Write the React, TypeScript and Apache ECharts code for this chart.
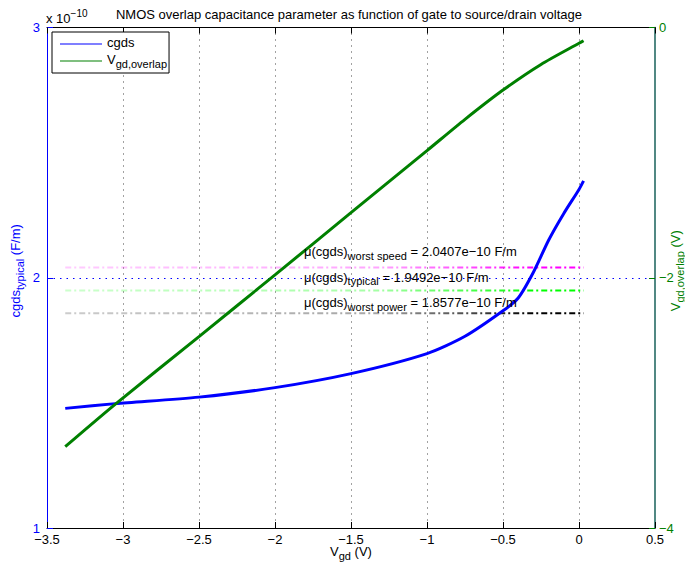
import { useEffect, useRef } from 'react';
import * as echarts from 'echarts';

// Gate-to-drain voltage samples (V) and the typical overlap capacitance (x 1e-10 F/m)
const vgdCgds = [-3.38, -3.05, -2.5, -2.0, -1.5, -1.0, -0.75, -0.5, -0.4, -0.3, -0.2, -0.1, 0.0, 0.03];
const cgdsTypical = [1.478, 1.497, 1.523, 1.561, 1.617, 1.697, 1.766, 1.868, 1.919, 2.022, 2.15, 2.257, 2.353, 2.387];

// Overlap voltage on the right axis (V)
const vgdOverlap = [-3.38, -3.05, -2.5, -2.0, -1.5, -1.0, -0.75, -0.5, -0.25, 0.0, 0.03];
const vOverlap = [-3.35, -3.01, -2.47, -1.977, -1.48, -0.984, -0.734, -0.5, -0.295, -0.126, -0.106];

// Mean capacitance per corner (x 1e-10 F/m)
const meanCorners = ['worst speed', 'typical', 'worst power'];
const meanValues = [2.0407, 1.9492, 1.8577];

// Axis ranges and tick steps
const xRange = [-3.5, 0.5];
const xStep = 0.5;
const leftRange = [1, 3];
const leftStep = 1;
const rightRange = [-4, 0];
const rightStep = 2;

const BLUE = '#0000ff';
const GREEN = '#008000';
const AXIS_TEAL = '#17605a';
const FONT = '"Liberation Sans", Arial, Helvetica, sans-serif';
const meanRgb = ['255,0,255', '0,255,0', '0,0,0'];

const minus = (v: number) => String(v).replace('-', '\u2212');

const subRich = (color: string) => ({
  m: { fontSize: 13, lineHeight: 16, verticalAlign: 'top', color, fontFamily: FONT },
  s: { fontSize: 11, lineHeight: 4, verticalAlign: 'bottom', color, fontFamily: FONT },
});

const fadeStops = (rgb: string) => [
  { offset: 0, color: `rgba(${rgb},0.2)` },
  { offset: 0.6, color: `rgba(${rgb},0.35)` },
  { offset: 0.8, color: `rgba(${rgb},0.75)` },
  { offset: 0.9, color: `rgba(${rgb},1)` },
  { offset: 1, color: `rgba(${rgb},1)` },
];

function buildOption(): any {
  const xStart = vgdCgds[0];
  const xEnd = vgdCgds[vgdCgds.length - 1];

  const meanSeries = meanValues.map((m, i) => ({
    id: 'mean' + i,
    name: 'mean ' + meanCorners[i],
    type: 'line',
    xAxisIndex: 0,
    yAxisIndex: 0,
    data: [[xStart, m], [xEnd, m]],
    symbol: 'none',
    silent: true,
    z: 1,
    lineStyle: { width: 2, type: [6, 3, 2, 3], color: `rgb(${meanRgb[i]})` },
  }));

  const annotations = meanValues.map((m, i) => ({
    type: 'text',
    z: 5,
    style: {
      x: 304,
      y: 253 + i * 25.5,
      text: `{m|\u03bc(cgds)}{s|${meanCorners[i]}}{m| = ${m.toFixed(4)}e\u221210 F/m}`,
      rich: subRich('#000'),
      verticalAlign: 'middle',
      align: 'left',
    },
  }));

  return {
    animation: false,
    backgroundColor: '#fff',
    textStyle: { fontFamily: FONT },
    grid: {
      left: 47,
      right: 30,
      top: 27.5,
      bottom: 37,
      containLabel: false,
      outerBoundsMode: 'none',
    },
    legend: {
      data: ['cgds', 'Vgd,overlap'],
      orient: 'vertical',
      left: 52,
      top: 32,
      backgroundColor: '#fff',
      borderColor: '#000',
      borderWidth: 1,
      borderRadius: 0,
      padding: [4, 2, 4, 8],
      icon: 'rect',
      itemWidth: 42,
      itemHeight: 1,
      itemGap: 4,
      lineStyle: { width: 1 },
      formatter: (name: string) => (name === 'cgds' ? '{m|cgds}' : '{m|V}{s|gd,overlap}'),
      textStyle: { rich: subRich('#000') },
    },
    xAxis: [
      {
        type: 'value',
        position: 'bottom',
        min: xRange[0],
        max: xRange[1],
        interval: xStep,
        name: '{m|V}{s|gd}{m| (V)}',
        nameLocation: 'middle',
        nameGap: 17,
        nameMoveOverlap: false,
        nameTextStyle: { rich: subRich('#000') },
        axisLine: { onZero: false, lineStyle: { color: '#000', width: 1 } },
        axisTick: { inside: true, length: 6, lineStyle: { color: '#000' } },
        axisLabel: { color: '#000', fontSize: 13, margin: 5, formatter: minus },
        splitLine: {
          show: true,
          showMinLine: false,
          showMaxLine: false,
          lineStyle: { color: '#444', width: 1, type: [1, 5] },
        },
      },
      {
        type: 'value',
        position: 'top',
        min: xRange[0],
        max: xRange[1],
        interval: xStep,
        axisLine: { onZero: false, lineStyle: { color: '#000', width: 1 } },
        axisTick: { inside: true, length: 6, lineStyle: { color: '#000' } },
        axisLabel: { show: false },
        splitLine: { show: false },
      },
    ],
    yAxis: [
      {
        type: 'value',
        position: 'left',
        min: leftRange[0],
        max: leftRange[1],
        interval: leftStep,
        name: '{m|cgds}{s|typical}{m| (F/m)}',
        nameLocation: 'middle',
        nameRotate: 90,
        nameGap: 22,
        nameMoveOverlap: false,
        nameTextStyle: { rich: subRich(BLUE), padding: [0, 0, 0, 14] },
        axisLine: { show: true, onZero: false, lineStyle: { color: BLUE, width: 1 } },
        axisTick: { show: true, inside: true, length: 6, lineStyle: { color: BLUE } },
        axisLabel: { color: BLUE, fontSize: 13, margin: 7 },
        splitLine: {
          show: true,
          showMinLine: false,
          showMaxLine: false,
          lineStyle: { color: BLUE, width: 1, type: [1.5, 5] },
        },
      },
      {
        type: 'value',
        position: 'right',
        min: rightRange[0],
        max: rightRange[1],
        interval: rightStep,
        name: '{m|V}{s|gd,overlap}{m| (V)}',
        nameLocation: 'middle',
        nameRotate: 90,
        nameGap: 14,
        nameMoveOverlap: false,
        nameTextStyle: { rich: subRich(GREEN), padding: [0, 0, 0, 14] },
        axisLine: { show: true, onZero: false, lineStyle: { color: AXIS_TEAL, width: 1.5 } },
        axisTick: { show: true, inside: true, length: 6, lineStyle: { color: GREEN } },
        axisLabel: { color: GREEN, fontSize: 13, margin: 4, formatter: minus },
        splitLine: { show: false },
      },
    ],
    series: [
      ...meanSeries,
      {
        id: 'cgds',
        name: 'cgds',
        type: 'line',
        xAxisIndex: 0,
        yAxisIndex: 0,
        data: vgdCgds.map((x, i) => [x, cgdsTypical[i]]),
        symbol: 'none',
        smooth: 0.25,
        z: 3,
        color: BLUE,
        lineStyle: { color: BLUE, width: 3 },
      },
      {
        id: 'overlap',
        name: 'Vgd,overlap',
        type: 'line',
        xAxisIndex: 0,
        yAxisIndex: 1,
        data: vgdOverlap.map((x, i) => [x, vOverlap[i]]),
        symbol: 'none',
        smooth: 0.25,
        z: 4,
        color: GREEN,
        lineStyle: { color: GREEN, width: 3 },
      },
    ],
    graphic: [
      {
        type: 'text',
        style: {
          x: 349,
          y: 14,
          text: 'NMOS overlap capacitance parameter as function of gate to source/drain voltage',
          fontSize: 13,
          fontFamily: FONT,
          fill: '#000',
          align: 'center',
          verticalAlign: 'middle',
        },
      },
      {
        type: 'text',
        style: {
          x: 46,
          y: 16.5,
          text: '{m|x 10}{p|\u221210}',
          rich: {
            m: { fontSize: 13, lineHeight: 16, verticalAlign: 'bottom', color: BLUE, fontFamily: FONT },
            p: { fontSize: 10, lineHeight: 4, verticalAlign: 'top', color: BLUE, fontFamily: FONT },
          },
          align: 'left',
          verticalAlign: 'middle',
        },
      },
      ...annotations,
    ],
  };
}

export default function App() {
  const ref = useRef<HTMLDivElement>(null);

  useEffect(() => {
    if (!ref.current) return;
    const chart = echarts.init(ref.current, undefined, { renderer: 'svg' });
    chart.setOption(buildOption());

    // Fade the mean lines in from left to right along their own pixel span
    const p0 = chart.convertToPixel({ xAxisIndex: 0 }, vgdCgds[0]) as number;
    const p1 = chart.convertToPixel({ xAxisIndex: 0 }, vgdCgds[vgdCgds.length - 1]) as number;
    chart.setOption({
      series: meanValues.map((_, i) => ({
        id: 'mean' + i,
        lineStyle: {
          color: new echarts.graphic.LinearGradient(p0, 0, p1, 0, fadeStops(meanRgb[i]), true),
        },
      })),
    });

    return () => chart.dispose();
  }, []);

  return (
    <div
      ref={ref}
      style={{ position: 'absolute', left: 0, top: 0, width: 685, height: 565 }}
    />
  );
}
